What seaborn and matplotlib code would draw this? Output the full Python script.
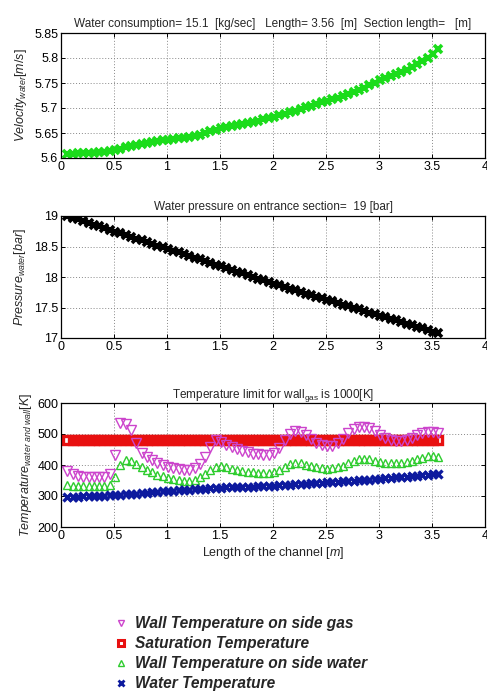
import matplotlib
matplotlib.use("Agg")
import matplotlib.pyplot as plt
from matplotlib.ticker import FuncFormatter
from matplotlib.lines import Line2D
import seaborn as sns
import pandas as pd

# ---------------- data ----------------
x_m = [0.06, 0.11, 0.16, 0.21, 0.26, 0.31, 0.36, 0.41, 0.46, 0.51,
       0.56, 0.61, 0.66, 0.71, 0.76, 0.81, 0.86, 0.91, 0.96, 1.01,
       1.06, 1.11, 1.16, 1.21, 1.26, 1.31, 1.36, 1.41, 1.46, 1.51,
       1.56, 1.61, 1.66, 1.71, 1.76, 1.81, 1.86, 1.91, 1.96, 2.01,
       2.06, 2.11, 2.16, 2.21, 2.26, 2.31, 2.36, 2.41, 2.46, 2.51,
       2.56, 2.61, 2.66, 2.71, 2.76, 2.81, 2.86, 2.91, 2.96, 3.01,
       3.06, 3.11, 3.16, 3.21, 3.26, 3.31, 3.36, 3.41, 3.46, 3.51,
       3.56]

velocity = [5.609, 5.609, 5.610, 5.610, 5.611, 5.611, 5.612, 5.613, 5.614, 5.616,
            5.619, 5.622, 5.624, 5.626, 5.628, 5.630, 5.632, 5.634, 5.636, 5.637,
            5.638, 5.640, 5.641, 5.643, 5.645, 5.647, 5.650, 5.654, 5.657, 5.660,
            5.662, 5.664, 5.666, 5.669, 5.671, 5.673, 5.675, 5.678, 5.680, 5.683,
            5.686, 5.689, 5.692, 5.695, 5.699, 5.702, 5.705, 5.708, 5.712, 5.715,
            5.718, 5.721, 5.725, 5.729, 5.733, 5.737, 5.741, 5.746, 5.751, 5.756,
            5.760, 5.764, 5.768, 5.773, 5.777, 5.782, 5.788, 5.794, 5.801, 5.808,
            5.818]

pressure = [19.000, 18.972, 18.943, 18.915, 18.886, 18.858, 18.829, 18.801, 18.772, 18.744,
            18.715, 18.687, 18.658, 18.630, 18.601, 18.573, 18.544, 18.516, 18.487, 18.459,
            18.430, 18.402, 18.373, 18.345, 18.316, 18.288, 18.259, 18.231, 18.202, 18.174,
            18.145, 18.117, 18.088, 18.060, 18.031, 18.003, 17.974, 17.946, 17.917, 17.889,
            17.862, 17.835, 17.808, 17.781, 17.755, 17.729, 17.703, 17.677, 17.651, 17.625,
            17.599, 17.573, 17.547, 17.521, 17.495, 17.469, 17.443, 17.417, 17.391, 17.365,
            17.339, 17.313, 17.287, 17.261, 17.235, 17.209, 17.183, 17.157, 17.131, 17.105,
            17.080]

wall_gas_T = [380, 370, 364, 362, 361, 361, 361, 362, 372, 432,
              535, 532, 512, 470, 440, 425, 415, 406, 399, 394,
              390, 387, 385, 385, 390, 402, 425, 458, 482, 475,
              465, 458, 452, 446, 441, 437, 434, 432, 432, 438,
              455, 480, 500, 510, 508, 498, 485, 472, 463, 460,
              462, 470, 485, 502, 515, 522, 523, 519, 510, 498,
              488, 481, 477, 476, 480, 488, 497, 504, 508, 508,
              503]

saturation_T = [482, 482, 482, 482, 482, 482, 482, 482, 482, 482,
                482, 482, 482, 482, 482, 482, 482, 482, 482, 482,
                482, 482, 482, 482, 482, 482, 482, 482, 482, 482,
                482, 482, 482, 482, 482, 482, 482, 482, 482, 482,
                482, 482, 482, 482, 482, 482, 482, 482, 482, 482,
                482, 482, 482, 482, 482, 482, 482, 482, 482, 482,
                482, 482, 482, 482, 482, 482, 482, 482, 482, 482,
                482]

wall_water_T = [336, 333, 332, 331, 331, 331, 331, 332, 334, 360,
                400, 416, 412, 402, 393, 384, 376, 369, 363, 358,
                354, 351, 349, 349, 352, 360, 372, 385, 394, 396,
                393, 388, 384, 381, 378, 376, 375, 374, 375, 378,
                385, 394, 402, 406, 405, 401, 396, 392, 389, 388,
                389, 392, 398, 406, 413, 418, 420, 418, 414, 410,
                407, 406, 406, 407, 410, 414, 419, 424, 428, 429,
                426]

water_T = [297, 297.5, 298, 299, 299.5, 300, 301, 301.5, 302, 303,
           304, 305.5, 307, 308, 309.5, 311, 312, 313.5, 315, 316,
           317, 318.5, 319.5, 320.5, 321.5, 322.5, 323.5, 324.5, 325.5, 327,
           327.5, 328, 328.5, 329, 329.5, 330.5, 331, 331.5, 332, 333,
           334, 335, 336, 337.5, 338.5, 339.5, 340.5, 341.5, 342.5, 344,
           345, 346, 347, 348.5, 349.5, 350.5, 351.5, 353, 354.5, 356,
           357, 358.5, 360, 361, 362.5, 364, 365, 366.5, 368, 369.5,
           371]

x_ticks = [0, 0.5, 1, 1.5, 2, 2.5, 3, 3.5, 4]
vel_ticks = [5.6, 5.65, 5.7, 5.75, 5.8, 5.85]
pres_ticks = [17, 17.5, 18, 18.5, 19]
temp_ticks = [200, 300, 400, 500, 600]

legend_labels = ["Wall Temperature on side gas", "Saturation Temperature",
                 "Wall Temperature on side water", "Water Temperature"]

df = pd.DataFrame({"x": x_m, "vel": velocity, "p": pressure, "tg": wall_gas_T,
                   "ts": saturation_T, "tw": wall_water_T, "t": water_T})

# ---------------- style ----------------
sns.set_theme(style="whitegrid")
plt.rcParams["font.family"] = ["Liberation Sans", "DejaVu Sans"]
plt.rcParams["mathtext.fontset"] = "custom"
plt.rcParams["mathtext.rm"] = "Liberation Sans"
plt.rcParams["mathtext.it"] = "Liberation Sans:italic"
plt.rcParams["axes.unicode_minus"] = False

fig = plt.figure(figsize=(4.87, 6.93), dpi=100)
W, H = 487.0, 693.0
def add_ax(top, bottom, left=61, right=485):
    return fig.add_axes([left / W, 1 - bottom / H, (right - left) / W, (bottom - top) / H])

ax1 = add_ax(33, 158)
ax2 = add_ax(216, 338)
ax3 = add_ax(403, 527)

fmt = FuncFormatter(lambda v, p: ("%g" % v))

def style(ax, yticks):
    ax.set_facecolor("white")
    ax.set_xlim(0, 4)
    ax.set_ylim(yticks[0], yticks[-1])
    ax.set_xticks(x_ticks)
    ax.set_yticks(yticks)
    ax.xaxis.set_major_formatter(fmt)
    ax.yaxis.set_major_formatter(fmt)
    ax.grid(True, color="#888888", linestyle=(0, (1, 2)), linewidth=0.7)
    for s in ax.spines.values():
        s.set_color("black")
        s.set_linewidth(0.9)
    ax.tick_params(direction="in", length=3, width=0.7, labelsize=9, colors="black",
                   top=True, right=True, bottom=True, left=True, pad=2)
    ax.set_xlabel("")

# Panel 1: velocity
sns.lineplot(data=df, x="x", y="vel", ax=ax1, linestyle="none", marker="x",
             markersize=6, markeredgewidth=2.6, color="#1bdc1b", markeredgecolor="#1bdc1b")
style(ax1, vel_ticks)
ax1.set_title("Water consumption= 15.1  [kg/sec]   Length= 3.56  [m]  Section length=   [m]",
              fontsize=8.5, pad=4)
ax1.set_ylabel(r"$\mathit{Velocity}_{\mathit{water}}$$\mathit{[m/s]}$", fontsize=9, labelpad=4)

# Panel 2: pressure
sns.lineplot(data=df, x="x", y="p", ax=ax2, linestyle="none", marker="x",
             markersize=6, markeredgewidth=2.6, color="black", markeredgecolor="black")
style(ax2, pres_ticks)
ax2.set_title("Water pressure on entrance section=  19 [bar]", fontsize=8.5, pad=4)
ax2.set_ylabel(r"$\mathit{Pressure}_{\mathit{water}}$$\mathit{[bar]}$", fontsize=9, labelpad=4)

# Panel 3: temperatures
c_gas, c_sat, c_wat, c_w = "#cc44cc", "#e81010", "#2ecc2e", "#0d1a9e"
sns.lineplot(data=df, x="x", y="ts", ax=ax3, linestyle="none", marker="s", markersize=5.5,
             markeredgewidth=2.4, markerfacecolor="none", markeredgecolor=c_sat, color=c_sat)
sns.lineplot(data=df, x="x", y="tg", ax=ax3, linestyle="none", marker="v", markersize=6.5,
             markeredgewidth=1.0, markerfacecolor="none", markeredgecolor=c_gas, color=c_gas)
sns.lineplot(data=df, x="x", y="tw", ax=ax3, linestyle="none", marker="^", markersize=6,
             markeredgewidth=1.0, markerfacecolor="none", markeredgecolor=c_wat, color=c_wat)
sns.lineplot(data=df, x="x", y="t", ax=ax3, linestyle="none", marker="x", markersize=5.5,
             markeredgewidth=2.4, color=c_w, markeredgecolor=c_w)
style(ax3, temp_ticks)
ax3.set_title(r"Temperature limit for wall$_{\mathrm{gas}}$ is 1000[K]", fontsize=8.5, pad=4)
ax3.set_ylabel(r"$\mathit{Temperature}_{\mathit{water\ and\ wall}}$$\mathit{[K]}$", fontsize=9, labelpad=2)
ax3.set_xlabel(r"Length of the channel $\mathit{[m]}$", fontsize=9, labelpad=2)

# Legend (separate, below)
handles = [
    Line2D([], [], linestyle="none", marker="v", markersize=5, markerfacecolor="none",
           markeredgecolor=c_gas, markeredgewidth=1.0),
    Line2D([], [], linestyle="none", marker="s", markersize=5, markerfacecolor="none",
           markeredgecolor=c_sat, markeredgewidth=2.2),
    Line2D([], [], linestyle="none", marker="^", markersize=5, markerfacecolor="none",
           markeredgecolor=c_wat, markeredgewidth=1.0),
    Line2D([], [], linestyle="none", marker="x", markersize=4.5, markeredgecolor=c_w,
           markeredgewidth=2.0),
]
fig.legend(handles, legend_labels, loc="upper left", bbox_to_anchor=(113 / W, 1 - 616 / H),
           frameon=False, handlelength=1.0, handletextpad=0.4, labelspacing=0.33, borderpad=0,
           borderaxespad=0,
           prop={"family": "Liberation Sans", "weight": "bold", "style": "italic", "size": 11.2})

fig.savefig("out.png", dpi=100, facecolor="white")
